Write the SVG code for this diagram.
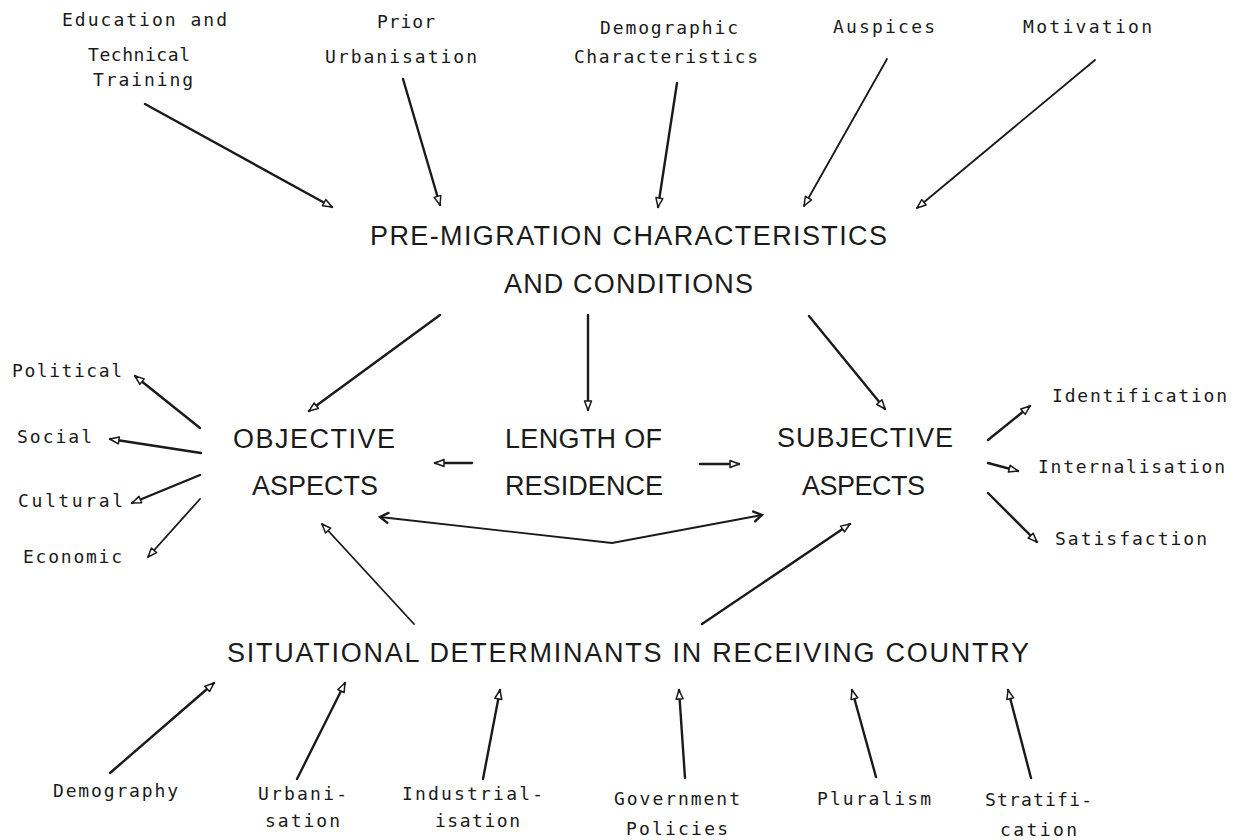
<svg xmlns="http://www.w3.org/2000/svg" width="1238" height="840" viewBox="0 0 1238 840">
<defs>
<style>
.s{font-family:"DejaVu Sans Mono","Liberation Mono",monospace;font-size:18px;fill:#1a1a1a}
.b{font-family:"Liberation Sans","DejaVu Sans",sans-serif;font-size:27px;fill:#1a1a1a}
.c{fill:none;stroke:#1a1a1a;stroke-width:2.4;stroke-linecap:round;marker-end:url(#ah)}
.t{stroke-width:1.8}
</style>
<marker id="ah" markerUnits="userSpaceOnUse" viewBox="-11 -5 13 10" refX="0" refY="0" markerWidth="13" markerHeight="10" orient="auto">
<path d="M0,0 L-9,-3.5 L-9,3.5 Z" fill="#fff" stroke="#1a1a1a" stroke-width="1.5" stroke-linejoin="round"/>
</marker>
<marker id="ch" markerUnits="userSpaceOnUse" viewBox="-11 -7 13 14" refX="0" refY="0" markerWidth="13" markerHeight="14" orient="auto-start-reverse">
<path d="M-8,-5 L0,0 L-8,5" fill="none" stroke="#1a1a1a" stroke-width="2.4" stroke-linecap="round"/>
</marker>
</defs>
<rect width="1238" height="840" fill="#fff"/>

<g id="connectors">
<line class="c" x1="145" y1="104" x2="332" y2="207"/>
<line class="c" x1="403" y1="79" x2="440" y2="205"/>
<line class="c" x1="677" y1="83" x2="658" y2="207"/>
<line class="c t" x1="887" y1="59" x2="804" y2="206"/>
<line class="c t" x1="1095" y1="60" x2="917" y2="208"/>
<line class="c" x1="440" y1="315" x2="309" y2="411"/>
<line class="c" x1="588" y1="315" x2="588" y2="410"/>
<line class="c" x1="809" y1="316" x2="885" y2="409"/>
<line class="c" x1="472" y1="463" x2="435" y2="463"/>
<line class="c" x1="700" y1="464" x2="739" y2="464"/>
<path d="M380,517 L612,543 L762,515" fill="none" stroke="#1a1a1a" stroke-width="1.8" marker-start="url(#ch)" marker-end="url(#ch)"/>
<line class="c" x1="200" y1="428" x2="135" y2="376"/>
<line class="c" x1="201" y1="453" x2="110" y2="439"/>
<line class="c" x1="200" y1="475" x2="132" y2="503"/>
<line class="c t" x1="200" y1="499" x2="148" y2="557"/>
<line class="c" x1="988" y1="440" x2="1030" y2="406"/>
<line class="c" x1="988" y1="463" x2="1018" y2="471"/>
<line class="c" x1="988" y1="493" x2="1037" y2="542"/>
<line class="c t" x1="414" y1="624" x2="322" y2="524"/>
<line class="c" x1="702" y1="624" x2="850" y2="524"/>
<line class="c" x1="110" y1="773" x2="214" y2="683"/>
<line class="c" x1="297" y1="779" x2="345" y2="683"/>
<line class="c" x1="483" y1="779" x2="500" y2="690"/>
<line class="c" x1="685" y1="778" x2="679" y2="690"/>
<line class="c" x1="876" y1="777" x2="852" y2="690"/>
<line class="c" x1="1031" y1="778" x2="1008" y2="690"/>
</g>

<g id="education"><text class="s" x="62" y="26" textLength="165" lengthAdjust="spacing">Education and</text><text class="s" x="88" y="61" textLength="102" lengthAdjust="spacing">Technical</text><text class="s" x="93" y="86" textLength="100" lengthAdjust="spacing">Training</text></g>
<g id="prior"><text class="s" x="377" y="28" textLength="58" lengthAdjust="spacing">Prior</text><text class="s" x="325" y="63" textLength="152" lengthAdjust="spacing">Urbanisation</text></g>
<g id="demographic"><text class="s" x="600" y="34" textLength="138" lengthAdjust="spacing">Demographic</text><text class="s" x="574" y="63" textLength="184" lengthAdjust="spacing">Characteristics</text></g>
<g id="auspices"><text class="s" x="833" y="33" textLength="102" lengthAdjust="spacing">Auspices</text></g>
<g id="motivation"><text class="s" x="1023" y="33" textLength="129" lengthAdjust="spacing">Motivation</text></g>

<g id="premigration"><text class="b" x="370" y="245" textLength="517" lengthAdjust="spacing">PRE-MIGRATION CHARACTERISTICS</text><text class="b" x="504" y="293" textLength="249" lengthAdjust="spacing">AND CONDITIONS</text></g>
<g id="objective"><text class="b" x="233" y="448" textLength="162" lengthAdjust="spacing">OBJECTIVE</text><text class="b" x="252" y="495" textLength="126" lengthAdjust="spacing">ASPECTS</text></g>
<g id="length"><text class="b" x="505" y="448" textLength="157" lengthAdjust="spacing">LENGTH OF</text><text class="b" x="505" y="495" textLength="158" lengthAdjust="spacing">RESIDENCE</text></g>
<g id="subjective"><text class="b" x="777" y="447" textLength="176" lengthAdjust="spacing">SUBJECTIVE</text><text class="b" x="802" y="495" textLength="123" lengthAdjust="spacing">ASPECTS</text></g>
<g id="situational"><text class="b" x="227" y="662" textLength="802" lengthAdjust="spacing">SITUATIONAL DETERMINANTS IN RECEIVING COUNTRY</text></g>

<g id="political"><text class="s" x="12" y="377" textLength="110" lengthAdjust="spacing">Political</text></g>
<g id="social"><text class="s" x="17" y="443" textLength="75" lengthAdjust="spacing">Social</text></g>
<g id="cultural"><text class="s" x="18" y="507" textLength="105" lengthAdjust="spacing">Cultural</text></g>
<g id="economic"><text class="s" x="23" y="563" textLength="99" lengthAdjust="spacing">Economic</text></g>

<g id="identification"><text class="s" x="1052" y="402" textLength="175" lengthAdjust="spacing">Identification</text></g>
<g id="internalisation"><text class="s" x="1038" y="473" textLength="187" lengthAdjust="spacing">Internalisation</text></g>
<g id="satisfaction"><text class="s" x="1055" y="545" textLength="152" lengthAdjust="spacing">Satisfaction</text></g>

<g id="demography"><text class="s" x="53" y="797" textLength="125" lengthAdjust="spacing">Demography</text></g>
<g id="urbanisation"><text class="s" x="258" y="800" textLength="89" lengthAdjust="spacing">Urbani-</text><text class="s" x="265" y="827" textLength="75" lengthAdjust="spacing">sation</text></g>
<g id="industrialisation"><text class="s" x="402" y="800" textLength="141" lengthAdjust="spacing">Industrial-</text><text class="s" x="435" y="827" textLength="85" lengthAdjust="spacing">isation</text></g>
<g id="government"><text class="s" x="614" y="805" textLength="126" lengthAdjust="spacing">Government</text><text class="s" x="626" y="835" textLength="102" lengthAdjust="spacing">Policies</text></g>
<g id="pluralism"><text class="s" x="817" y="805" textLength="114" lengthAdjust="spacing">Pluralism</text></g>
<g id="stratification"><text class="s" x="985" y="806" textLength="107" lengthAdjust="spacing">Stratifi-</text><text class="s" x="1000" y="836" textLength="77" lengthAdjust="spacing">cation</text></g>
</svg>
